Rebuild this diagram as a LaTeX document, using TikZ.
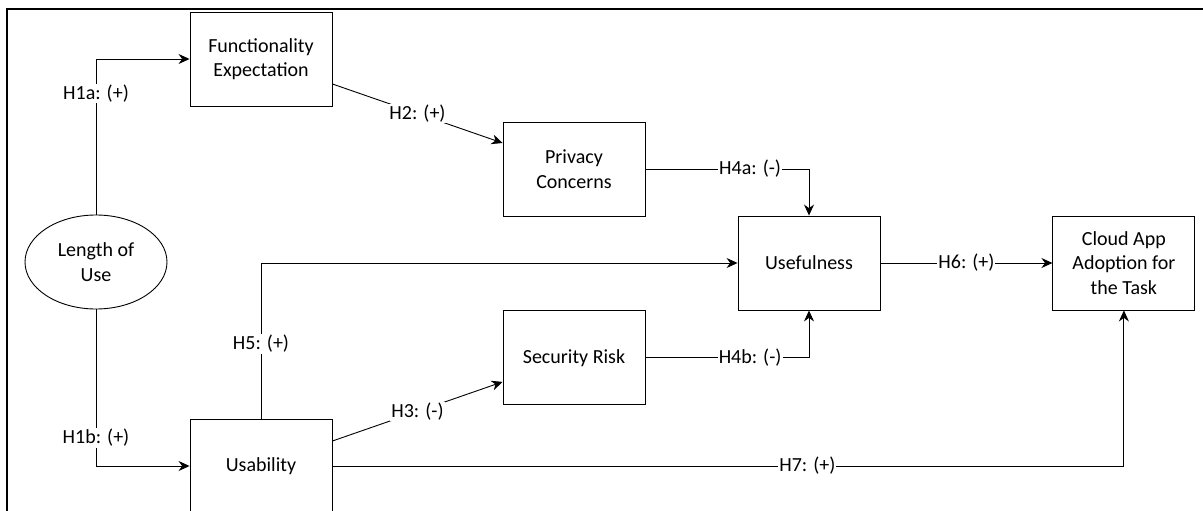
\documentclass[tikz,border=0pt]{standalone}
\usepackage{fontspec}
\setmainfont{Carlito}
\usetikzlibrary{positioning,shapes.geometric,arrows.meta}

\begin{document}
\begin{tikzpicture}[
  x=1pt, y=-1pt,
  every node/.style={font=\fontsize{20}{24.5}\selectfont},
  box/.style={rectangle, draw=black, line width=0.9pt, minimum width=142pt,
              minimum height=94pt, align=center, inner sep=0pt},
  oval/.style={ellipse, draw=black, line width=0.9pt, minimum width=142pt,
               minimum height=94pt, align=center, inner sep=0pt},
  arrowstyle/.style={-{Stealth[length=11pt,width=10pt]}, line width=0.9pt},
  hyp/.style={fill=white, inner sep=1pt}
]
  \useasboundingbox (0,0) rectangle (1203,511);
  \draw[line width=2pt] (7,511) -- (7,9) -- (1203,9);

  \node[box] (fe) at (261,59) {Functionality\\Expectation};
  \node[oval] (lou) at (96,262) {Length of\\Use};
  \node[box] (pc) at (574,169) {Privacy\\Concerns};
  \node[box, below=94pt of pc] (sr) {Security Risk};
  \node[box] (usef) at (809,263) {Usefulness};
  \node[box, right=172pt of usef] (cloud) {Cloud App\\Adoption for\\the Task};
  \node[box] (usab) at (261,466) {Usability};

  \draw[arrowstyle] (lou.north) |- node[hyp, pos=0.39] {H1a: (+)} (fe.west);
  \draw[arrowstyle] (lou.south) |- node[hyp, pos=0.41] {H1b: (+)} (usab.west);
  \draw[arrowstyle] ([yshift=-25pt]fe.east) -- node[hyp] {H2: (+)} ([yshift=26pt]pc.west);
  \draw[arrowstyle] ([yshift=25pt]usab.east) -- node[hyp] {H3: (-)} ([yshift=-24pt]sr.west);
  \draw[arrowstyle] (pc.east) -| node[hyp, pos=0.32] {H4a: (-)} (usef.north);
  \draw[arrowstyle] (sr.east) -| node[hyp, pos=0.32] {H4b: (-)} (usef.south);
  \draw[arrowstyle] (usab.north) |- node[hyp, pos=0.24] {H5: (+)} (usef.west);
  \draw[arrowstyle] (usef) -- node[hyp] {H6: (+)} (cloud);
  \draw[arrowstyle] (usab.east) -| node[hyp, pos=0.3] {H7: (+)} (cloud.south);
\end{tikzpicture}
\end{document}
